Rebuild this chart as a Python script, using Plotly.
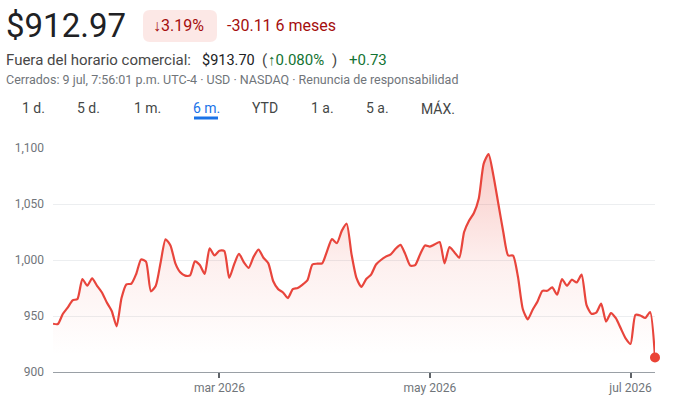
import pandas as pd
import plotly.graph_objects as go

# ---------------- data ----------------
holidays = ["2026-01-19", "2026-02-16", "2026-04-03", "2026-05-25", "2026-06-19", "2026-07-03"]
trade_days = pd.bdate_range("2026-01-09", "2026-07-09", freq="C", holidays=holidays)
dates = [d.strftime("%Y-%m-%d") for d in trade_days]

prices = [
    943.1, 942.8, 951.8, 957.5, 964.0, 965.2, 983.0, 977.0, 983.6, 977.0,
    971.0, 962.0, 954.5, 940.7, 966.0, 978.3, 978.8, 987.5, 1000.5, 998.5,
    972.0, 977.0, 998.0, 1018.5, 1013.0, 997.0, 989.0, 986.0, 986.3, 998.8,
    995.5, 987.5, 1010.5, 1004.0, 1008.3, 1008.0, 984.0, 996.0, 1005.6, 998.0,
    993.0, 1003.0, 1009.2, 1002.0, 997.0, 981.0, 974.0, 971.0, 966.0, 974.0,
    975.0, 978.0, 982.0, 996.0, 996.7, 997.0, 1008.0, 1018.7, 1015.0, 1026.0,
    1032.4, 1005.0, 984.0, 976.0, 983.0, 987.0, 996.0, 1000.0, 1003.0, 1005.0,
    1010.0, 1013.5, 1005.0, 995.0, 995.5, 1005.0, 1013.0, 1012.0, 1014.0, 1016.0,
    997.0, 1011.5, 1007.0, 1002.0, 1025.0, 1035.0, 1042.0, 1055.0, 1086.0, 1094.6,
    1075.0, 1050.0, 1025.0, 1004.0, 1004.0, 985.0, 956.0, 947.0, 955.6, 963.0,
    972.5, 972.5, 975.5, 969.0, 983.0, 977.0, 982.4, 980.0, 987.0, 960.0,
    952.0, 953.0, 961.0, 945.0, 952.6, 948.0, 939.0, 930.0, 925.0, 951.0,
    950.5, 948.2, 953.6, 912.97,
]

y_ticks = [900, 950, 1000, 1050, 1100]
x_tick_dates = ["2026-03-02", "2026-05-01", "2026-07-01"]
x_tick_labels = ["mar 2026", "may 2026", "jul 2026"]

tabs = ["1 d.", "5 d.", "1 m.", "6 m.", "YTD", "1 a.", "5 a.", "MÁX."]
active_tab = "6 m."

# ---------------- layout helpers ----------------
W, H = 689, 408
PL, PR, PT, PB = 53, 655, 148, 372


def px(x):
    return (x - PL) / (PR - PL)


def py(y):
    return (PB - y) / (PB - PT)


RED = "#e8453c"
FONT = "Roboto"

fig = go.Figure()
fig.add_trace(go.Scatter(
    x=dates, y=prices, mode="lines",
    line=dict(color=RED, width=2.2, shape="spline", smoothing=0.6),
    fill="tozeroy",
    fillgradient=dict(
        type="vertical", start=915, stop=1095,
        colorscale=[[0, "rgba(234,67,53,0)"], [0.45, "rgba(234,67,53,0.08)"], [1, "rgba(234,67,53,0.28)"]],
    ),
    hoverinfo="skip", showlegend=False,
))
fig.add_trace(go.Scatter(
    x=[dates[-1]], y=[prices[-1]], mode="markers",
    marker=dict(color="#ea4335", size=10),
    cliponaxis=False,
    hoverinfo="skip", showlegend=False,
))

annotations = []


def ann(text, x, y, size, color, anchor="left"):
    annotations.append(dict(
        text=text, x=px(x), y=py(y), xref="paper", yref="paper",
        xanchor=anchor, yanchor="middle", showarrow=False,
        font=dict(family=FONT, size=size, color=color),
    ))


ann("$912.97", 4, 26, 33, "#202124")
ann("↓3.19%", 151, 26, 16, "#a50e0e")
ann("-30.11 6 meses", 225, 26, 16, "#a50e0e")
ann("Fuera del horario comercial:", 4, 60, 15, "#474747")
ann("$913.70", 200, 60, 14.5, "#202124")
ann("(", 260, 60, 15, "#474747")
ann("↑0.080%", 266, 60, 15, "#137333")
ann(")", 330, 60, 15, "#474747")
ann("+0.73", 347, 60, 15, "#137333")
ann("Cerrados: 9 jul, 7:56:01 p.m. UTC-4 · USD · NASDAQ · Renuncia de responsabilidad", 4, 79, 12.5, "#70757a")

tab_centers = [33, 88, 147, 206, 265, 322, 377, 438]
for t, cx in zip(tabs, tab_centers):
    ann(t, cx, 108, 14, "#1a73e8" if t == active_tab else "#444746", anchor="center")

# badge with rounded corners
bx0, bx1, by0, by1, r = 143, 217, 10, 42, 7
rx = r / (PR - PL)
ry = r / (PB - PT)
X0, X1, Y0, Y1 = px(bx0), px(bx1), py(by1), py(by0)
badge = (f"M {X0+rx},{Y0} L {X1-rx},{Y0} Q {X1},{Y0} {X1},{Y0+ry} "
         f"L {X1},{Y1-ry} Q {X1},{Y1} {X1-rx},{Y1} L {X0+rx},{Y1} "
         f"Q {X0},{Y1} {X0},{Y1-ry} L {X0},{Y0+ry} Q {X0},{Y0} {X0+rx},{Y0} Z")
shapes = [
    dict(type="path", path=badge, xref="paper", yref="paper",
         fillcolor="#fce8e6", line=dict(width=0), layer="below"),
    dict(type="line", xref="paper", yref="paper", x0=px(194), x1=px(218), y0=py(118), y1=py(118),
         line=dict(color="#1a73e8", width=3)),
]

fig.update_layout(
    width=W, height=H,
    margin=dict(l=PL, r=W - PR, t=PT, b=H - PB, pad=0),
    paper_bgcolor="white", plot_bgcolor="white",
    font=dict(family=FONT, size=12, color="#70757a"),
    annotations=annotations, shapes=shapes,
    showlegend=False,
    xaxis=dict(
        type="category", range=[0, len(dates) - 1],
        tickmode="array", tickvals=x_tick_dates, ticktext=x_tick_labels,
        ticks="outside", ticklen=5, tickwidth=2, tickcolor="#5f6368",
        showgrid=False, zeroline=False,
        showline=True, linecolor="#9aa0a6", linewidth=1,
        tickfont=dict(family=FONT, size=12, color="#70757a"),
    ),
    yaxis=dict(
        range=[900, 1100], tickmode="array", tickvals=y_ticks, tickformat=",",
        showgrid=True, gridcolor="#eceef0", gridwidth=1, zeroline=False,
        showline=False, ticks="", ticklabelstandoff=8,
        tickfont=dict(family=FONT, size=12, color="#70757a"),
    ),
)

fig.write_html("out.html", config={"displayModeBar": False})
